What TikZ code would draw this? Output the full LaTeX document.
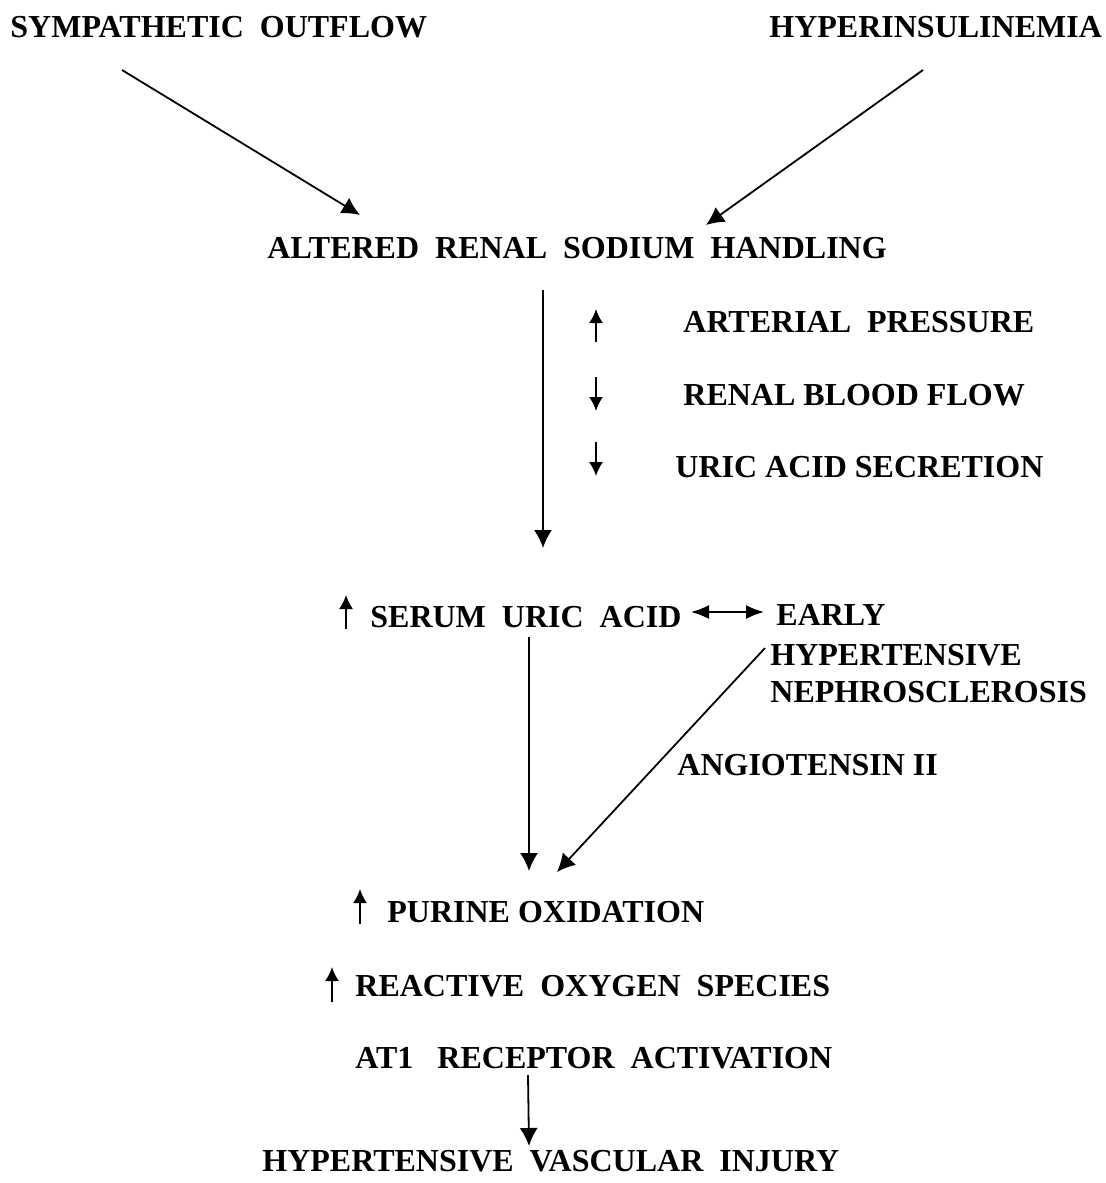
\documentclass[tikz,border=0pt]{standalone}
\usepackage{fontspec}
\setmainfont{Liberation Serif}
\usetikzlibrary{arrows.meta}
\begin{document}
\begin{tikzpicture}[x=0.5pt,y=-0.5pt,
  lbl/.style={anchor=west,inner sep=0pt,font=\fontsize{16}{19.5}\selectfont\bfseries},
  conn/.style={line width=0.9pt,-{Latex[length=9pt,width=9pt]}},
  dconn/.style={line width=0.9pt,{Latex[length=9pt,width=7pt]}-{Latex[length=9pt,width=7pt]}},
  smallarr/.style={line width=0.9pt,-{Latex[length=7pt,width=7pt]}}]
\useasboundingbox (0,0) rectangle (1105,1183);
% labels
\node[lbl] (sym) at (10,27) {SYMPATHETIC\ \ OUTFLOW};
\node[lbl] (hyp) at (769,27) {HYPERINSULINEMIA};
\node[lbl] (alt) at (267,248) {ALTERED\ \ RENAL\ \ SODIUM\ \ HANDLING};
\node[lbl] (art) at (683,322) {ARTERIAL\ \ PRESSURE};
\node[lbl] (rbf) at (683,395) {RENAL BLOOD FLOW};
\node[lbl] (uas) at (675,467) {URIC ACID SECRETION};
\node[lbl] (sua) at (370,617) {SERUM\ \ URIC\ \ ACID};
\node[lbl] (early) at (776,615) {EARLY};
\node[lbl] (hypt) at (770,655) {HYPERTENSIVE};
\node[lbl] (neph) at (770,692) {NEPHROSCLEROSIS};
\node[lbl] (ang) at (677,765) {ANGIOTENSIN II};
\node[lbl] (pur) at (387,912) {PURINE OXIDATION};
\node[lbl] (ros) at (355,986) {REACTIVE\ \ OXYGEN\ \ SPECIES};
\node[lbl] (at1) at (355,1058) {AT1\ \ \ RECEPTOR\ \ ACTIVATION};
\node[lbl] (hvi) at (262,1161) {HYPERTENSIVE\ \ VASCULAR\ \ INJURY};
% connector end points
\coordinate (c1s) at (122,70);
\coordinate (c1e) at (360,215);
\coordinate (c2s) at (923,70);
\coordinate (c2e) at (706,225);
\coordinate (c3s) at (543,290);
\coordinate (c3e) at (543,548);
\coordinate (c4s) at (691,612);
\coordinate (c4e) at (764,612);
\coordinate (c5s) at (529,637);
\coordinate (c5e) at (529,871);
\coordinate (c6s) at (765,648);
\coordinate (c6e) at (557,872);
\coordinate (c7s) at (528,1075);
\coordinate (c7e) at (529,1146);
\draw[conn] (c1s) -- (c1e);
\draw[conn] (c2s) -- (c2e);
\draw[conn] (c3s) -- (c3e);
\draw[dconn] (c4s) -- (c4e);
\draw[conn] (c5s) -- (c5e);
\draw[conn] (c6s) -- (c6e);
\draw[conn] (c7s) -- (c7e);
% small up/down arrows
\draw[smallarr] (596,342) -- (596,309);
\draw[smallarr] (596,377) -- (596,411);
\draw[smallarr] (596,442) -- (596,476);
\draw[smallarr] (346,629) -- (346,595);
\draw[smallarr] (360,924) -- (360,889);
\draw[smallarr] (332,1002) -- (332,967);
\end{tikzpicture}
\end{document}
